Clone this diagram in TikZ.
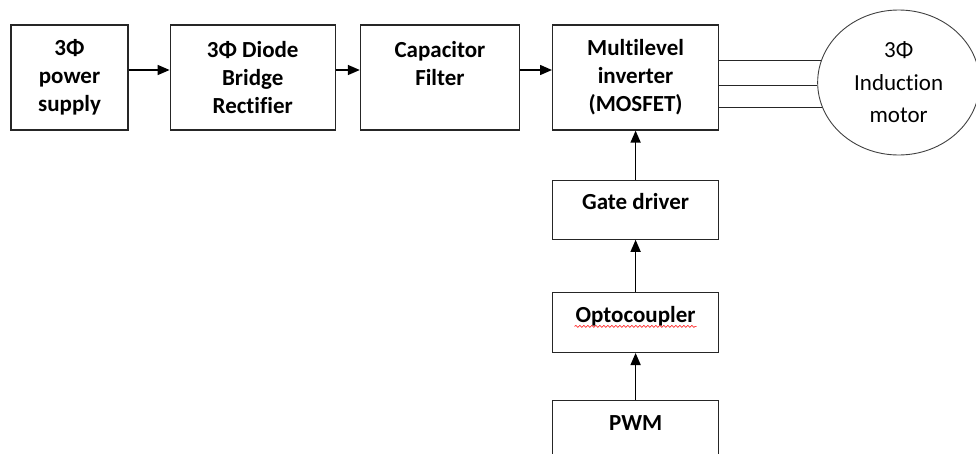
\documentclass[tikz,border=0pt]{standalone}
\usepackage{fontspec}
\setmainfont{Carlito}[RawFeature={-liga;-clig;-dlig}]
\usetikzlibrary{positioning,shapes.geometric,arrows.meta,decorations.pathmorphing}

\begin{document}
\begin{tikzpicture}[x=1pt,y=-1pt]
    \tikzstyle{block} = [rectangle, draw=black!85, line width=1.2pt, align=center, inner sep=2pt, font=\fontsize{23}{28}\selectfont\bfseries]
    \tikzstyle{topblock} = [block, minimum height=105pt]
    \tikzstyle{oneline} = [block, minimum width=166pt, minimum height=60pt, text height=12pt, text depth=12pt]
    \tikzstyle{arrow} = [line width=1.5pt, -{Triangle[length=12pt,width=10pt]}]
    \tikzstyle{phase} = [line width=1.2pt, black!85]

    \useasboundingbox (0,0) rectangle (976,453);

    \node (supply) [topblock, minimum width=117pt] at (69.5,77.5) {3Φ\\power\\supply};
    \node (rectifier) [topblock, minimum width=165pt, right=41pt of supply] {3Φ Diode\\Bridge\\Rectifier};
    \node (filter) [topblock, minimum width=159pt, right=24pt of rectifier] {Capacitor\\Filter\\\mbox{}};
    \node (inverter) [topblock, minimum width=166pt, right=32pt of filter] {Multilevel\\inverter\\(MOSFET)};
    \node (motor) [ellipse, draw=black!75, line width=0.9pt, minimum width=162pt, minimum height=145pt, inner sep=0pt, align=center, font=\fontsize{23}{32.5}\selectfont, right=98pt of inverter, yshift=-5pt] {3Φ\\Induction\\motor};
    \node (gate) [oneline, minimum height=59pt, below=49pt of inverter] {Gate driver};
    \node (opto) [oneline, below=52pt of gate] {Optocoupler};
    \node (pwm) [oneline, below=47pt of opto] {PWM};

    \draw [arrow] ([yshift=7.5pt]supply.east) -- ([yshift=7.5pt]rectifier.west);
    \draw [arrow] ([yshift=7.5pt]rectifier.east) -- ([yshift=7.5pt]filter.west);
    \draw [arrow] ([yshift=7.5pt]filter.east) -- ([yshift=7.5pt]inverter.west);
    \draw [arrow] (gate) -- (inverter);
    \draw [arrow] (opto) -- (gate);
    \draw [arrow] (pwm) -- (opto);

    \draw [phase] (inverter.east |- motor.164) -- (motor.164);
    \draw [phase] (inverter.east |- motor.182) -- (motor.182);
    \draw [phase] (inverter.east |- motor.198) -- (motor.198);

    \draw [red, line width=0.6pt, decorate, decoration={snake, amplitude=1pt, segment length=4pt}] ([xshift=-61pt,yshift=-4pt]opto.base) -- ([xshift=61pt,yshift=-4pt]opto.base);
\end{tikzpicture}
\end{document}
